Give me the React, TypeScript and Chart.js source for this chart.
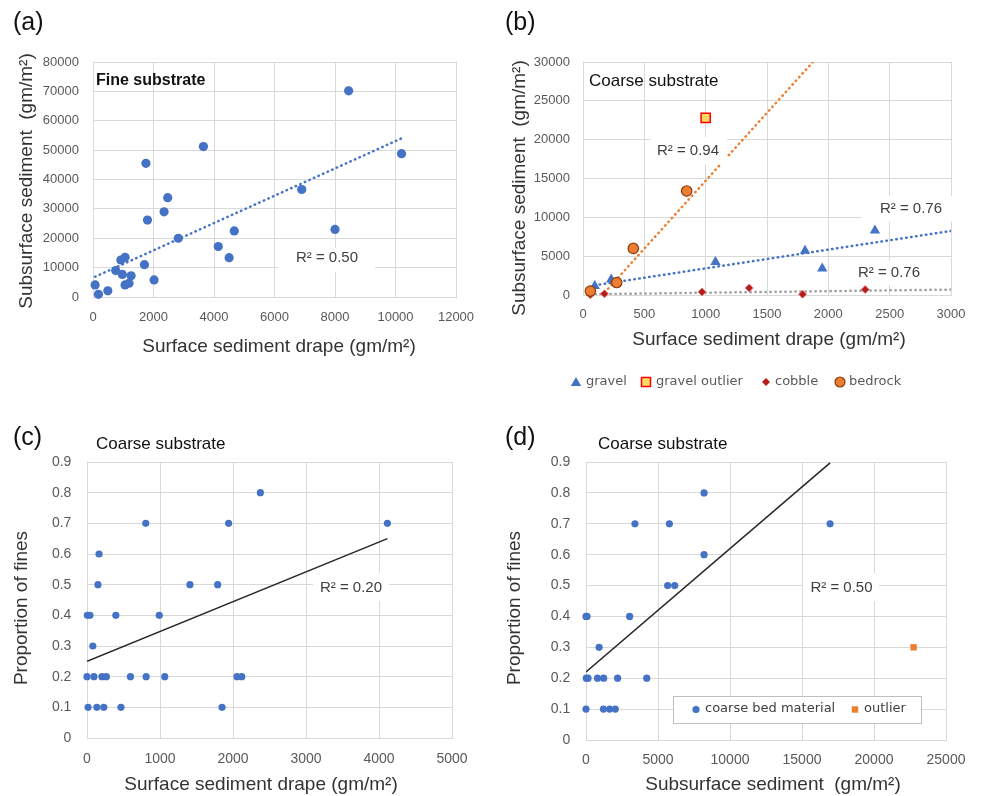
import React, { useEffect, useRef } from 'react';
import { Chart, registerables } from 'chart.js';

Chart.register(...registerables);

const FONT = '"Liberation Sans", Arial, Helvetica, sans-serif';
const LEGEND_FONT = '"DejaVu Sans", Verdana, sans-serif';

// ---------- (a) Fine substrate ----------
const fineDrapeX = [70, 180, 490, 750, 970, 1260, 1060, 1190, 920, 1060, 1700, 2020, 1750, 1800, 2350, 2470, 2820, 3650, 4140, 4500, 4670, 6900, 8000, 8450, 10200];
const fineSubsurfaceY = [4100, 900, 2100, 9000, 7700, 7200, 4100, 4700, 12600, 13500, 11000, 5800, 45500, 26200, 29000, 33800, 20000, 51200, 17200, 13400, 22500, 36600, 23000, 70200, 48800];
const fineTrendX = [70, 10200];
const fineTrendY = [6900, 54000];

// ---------- (b) Coarse substrate ----------
const gravelX = [96, 230, 1080, 1810, 1950, 2380];
const gravelY = [1150, 2000, 4250, 5700, 3400, 8300];
const gravelOutlierX = [1000];
const gravelOutlierY = [22800];
const cobbleX = [60, 175, 970, 1355, 1790, 2300];
const cobbleY = [30, 150, 400, 900, 100, 700];
const bedrockX = [60, 275, 410, 845];
const bedrockY = [500, 1600, 6000, 13400];
const gravelTrendX = [96, 3000];
const gravelTrendY = [1250, 8250];
const cobbleTrendX = [60, 3000];
const cobbleTrendY = [100, 700];
const bedrockTrendX = [150, 1880];
const bedrockTrendY = [-150, 30100];

// ---------- (c) Proportion of fines vs surface drape ----------
const drapeC = [2375, 805, 1940, 4115, 165, 150, 1410, 1790, 5, 40, 395, 990, 80, 0, 95, 205, 265, 595, 810, 1065, 2055, 2120, 15, 135, 230, 465, 1850];
const finesC = [0.8, 0.7, 0.7, 0.7, 0.6, 0.5, 0.5, 0.5, 0.4, 0.4, 0.4, 0.4, 0.3, 0.2, 0.2, 0.2, 0.2, 0.2, 0.2, 0.2, 0.2, 0.2, 0.1, 0.1, 0.1, 0.1, 0.1];
const trendCX = [0, 4115];
const trendCY = [0.25, 0.65];

// ---------- (d) Proportion of fines vs subsurface ----------
const subsurfaceD = [8200, 3400, 5790, 16950, 8200, 5670, 6160, 0, 70, 3030, 910, 20, 140, 800, 1225, 2195, 4220, 0, 1210, 1640, 2035];
const finesD = [0.8, 0.7, 0.7, 0.7, 0.6, 0.5, 0.5, 0.4, 0.4, 0.4, 0.3, 0.2, 0.2, 0.2, 0.2, 0.2, 0.2, 0.1, 0.1, 0.1, 0.1];
const outlierDX = [22750];
const outlierDY = [0.3];
const trendDX = [0, 16950];
const trendDY = [0.22, 0.897];

const BLUE = '#4472C4';
const ORANGE = '#ED7D31';
const GRID = '#d9d9d9';
const TICK = '#595959';
const TITLE = '#333333';

const pts = (xs: number[], ys: number[]) => xs.map((x, i) => ({ x, y: ys[i] }));

type AxisSpec = { min: number; max: number; step: number; tickSize: number; gap: number; fmt?: (v: number) => string };

function makeOptions(o: {
  width: number; height: number;
  area: { left: number; top: number; right: number; bottom: number };
  x: AxisSpec; y: AxisSpec;
}) {
  const fmtDefault = (v: number) => String(Math.round(v * 1000) / 1000);
  const xLineH = o.x.tickSize * 1.2;
  return {
    responsive: false,
    animation: false,
    devicePixelRatio: 1,
    events: [],
    layout: { padding: { left: 0, top: o.area.top, right: o.width - o.area.right, bottom: 0 } },
    plugins: { legend: { display: false }, tooltip: { enabled: false } },
    scales: {
      x: {
        type: 'linear', position: 'bottom', min: o.x.min, max: o.x.max,
        ticks: {
          stepSize: o.x.step, autoSkip: false, maxRotation: 0, minRotation: 0,
          color: TICK, font: { family: FONT, size: o.x.tickSize },
          padding: o.x.gap - xLineH / 2,
          callback: (v: number) => (o.x.fmt || fmtDefault)(v),
        },
        grid: { color: GRID, lineWidth: 1, drawTicks: false },
        border: { display: true, color: GRID },
        title: { display: false },
        afterFit: (s: any) => { s.height = o.height - o.area.bottom; },
      },
      y: {
        type: 'linear', position: 'left', min: o.y.min, max: o.y.max,
        ticks: {
          stepSize: o.y.step, autoSkip: false,
          color: TICK, font: { family: FONT, size: o.y.tickSize },
          padding: o.y.gap,
          callback: (v: number) => (o.y.fmt || fmtDefault)(v),
        },
        grid: { color: GRID, lineWidth: 1, drawTicks: false },
        border: { display: true, color: GRID },
        title: { display: false },
        afterFit: (s: any) => { s.width = o.area.left; },
      },
    },
  };
}

function text(ctx: CanvasRenderingContext2D, s: string, x: number, y: number, font: string, color: string, align: CanvasTextAlign = 'left') {
  ctx.font = font;
  ctx.fillStyle = color;
  ctx.textAlign = align;
  ctx.textBaseline = 'middle';
  ctx.fillText(s, x, y);
}

function axisTitles(ctx: CanvasRenderingContext2D, xTitle: string, xc: number, yc: number, yTitle: string, ycx: number, ycy: number) {
  const f = `19px ${FONT}`;
  text(ctx, xTitle, xc, yc, f, TITLE, 'center');
  ctx.save();
  ctx.translate(ycx, ycy);
  ctx.rotate(-Math.PI / 2);
  text(ctx, yTitle, 0, 0, f, TITLE, 'center');
  ctx.restore();
}

function rSquared(ctx: CanvasRenderingContext2D, s: string, cx: number, cy: number, box: [number, number, number, number]) {
  ctx.fillStyle = '#ffffff';
  ctx.fillRect(box[0], box[1], box[2] - box[0], box[3] - box[1]);
  text(ctx, s, cx, cy, `15px ${FONT}`, '#404040', 'center');
}

function triangle(ctx: CanvasRenderingContext2D, x: number, y: number, r: number, fill: string) {
  ctx.beginPath();
  for (let k = 0; k < 3; k++) {
    const a = (k * 2 * Math.PI) / 3;
    const px = x + Math.sin(a) * r;
    const py = y - Math.cos(a) * r;
    if (k === 0) ctx.moveTo(px, py); else ctx.lineTo(px, py);
  }
  ctx.closePath();
  ctx.fillStyle = fill;
  ctx.fill();
}

function square(ctx: CanvasRenderingContext2D, x: number, y: number, half: number, fill: string, stroke?: string, lw = 1) {
  ctx.fillStyle = fill;
  ctx.fillRect(x - half, y - half, half * 2, half * 2);
  if (stroke) {
    ctx.strokeStyle = stroke;
    ctx.lineWidth = lw;
    ctx.strokeRect(x - half, y - half, half * 2, half * 2);
  }
}

function diamond(ctx: CanvasRenderingContext2D, x: number, y: number, r: number, fill: string) {
  ctx.beginPath();
  ctx.moveTo(x, y - r);
  ctx.lineTo(x + r, y);
  ctx.lineTo(x, y + r);
  ctx.lineTo(x - r, y);
  ctx.closePath();
  ctx.fillStyle = fill;
  ctx.fill();
}

function circle(ctx: CanvasRenderingContext2D, x: number, y: number, r: number, fill: string, stroke?: string, lw = 1) {
  ctx.beginPath();
  ctx.arc(x, y, r, 0, Math.PI * 2);
  ctx.fillStyle = fill;
  ctx.fill();
  if (stroke) {
    ctx.strokeStyle = stroke;
    ctx.lineWidth = lw;
    ctx.stroke();
  }
}

function overlay(draw: (ctx: CanvasRenderingContext2D) => void) {
  return {
    id: 'overlay',
    afterDraw(chart: any) {
      const ctx = chart.ctx as CanvasRenderingContext2D;
      ctx.save();
      draw(ctx);
      ctx.restore();
    },
  };
}

const dotted = (color: string) => ({
  showLine: true, pointRadius: 0, borderColor: color, borderWidth: 2.5,
  borderDash: [0.5, 4.5], borderCapStyle: 'round', fill: false,
});

function configA() {
  return {
    type: 'scatter',
    data: {
      datasets: [
        { label: 'fine', data: pts(fineDrapeX, fineSubsurfaceY), pointRadius: 4.6, pointBackgroundColor: BLUE, pointBorderWidth: 0, clip: false },
        { label: 'trend', data: pts(fineTrendX, fineTrendY), ...dotted(BLUE) },
      ],
    },
    options: makeOptions({
      width: 490, height: 400,
      area: { left: 93, top: 62, right: 456, bottom: 297 },
      x: { min: 0, max: 12000, step: 2000, tickSize: 13, gap: 20 },
      y: { min: 0, max: 80000, step: 10000, tickSize: 13, gap: 14 },
    }),
    plugins: [overlay((ctx) => {
      text(ctx, '(a)', 13, 23, `25px ${FONT}`, '#111');
      text(ctx, 'Fine substrate', 96, 81, `bold 16px ${FONT}`, '#111');
      rSquared(ctx, 'R² = 0.50', 327, 258, [278, 248, 375, 272]);
      axisTitles(ctx, 'Surface sediment drape (gm/m²)', 279, 347, 'Subsurface sediment  (gm/m²)', 27, 181);
    })],
  };
}

function configB() {
  return {
    type: 'scatter',
    data: {
      datasets: [
        { label: 'gravel outlier', data: pts(gravelOutlierX, gravelOutlierY), pointStyle: 'rect', pointRadius: 6.5, pointBackgroundColor: '#FFD966', pointBorderColor: '#FF0000', pointBorderWidth: 1.5, clip: false },
        { label: 'bedrock', data: pts(bedrockX, bedrockY), pointRadius: 5.2, pointBackgroundColor: ORANGE, pointBorderColor: '#8C3A0A', pointBorderWidth: 1.2, clip: false },
        { label: 'gravel', data: pts(gravelX, gravelY), pointStyle: 'triangle', pointRadius: 6, pointBackgroundColor: BLUE, pointBorderWidth: 0, clip: false },
        { label: 'cobble', data: pts(cobbleX, cobbleY), pointStyle: 'rectRot', pointRadius: 4, pointBackgroundColor: '#B71C1C', pointBorderColor: '#E57373', pointBorderWidth: 0.8, clip: false },
        { label: 'bedrock trend', data: pts(bedrockTrendX, bedrockTrendY), ...dotted(ORANGE) },
        { label: 'gravel trend', data: pts(gravelTrendX, gravelTrendY), ...dotted(BLUE) },
        { label: 'cobble trend', data: pts(cobbleTrendX, cobbleTrendY), ...dotted('#A5A5A5') },
      ],
    },
    options: makeOptions({
      width: 491, height: 400,
      area: { left: 93, top: 62, right: 461, bottom: 295 },
      x: { min: 0, max: 3000, step: 500, tickSize: 13, gap: 19.7 },
      y: { min: 0, max: 30000, step: 5000, tickSize: 13, gap: 13 },
    }),
    plugins: [overlay((ctx) => {
      text(ctx, '(b)', 15, 23, `25px ${FONT}`, '#111');
      text(ctx, 'Coarse substrate', 99, 81, `17px ${FONT}`, '#111');
      rSquared(ctx, 'R² = 0.94', 198, 151, [160, 137, 237, 164]);
      rSquared(ctx, 'R² = 0.76', 421, 209, [372, 196, 470, 222]);
      rSquared(ctx, 'R² = 0.76', 399, 273, [360, 261, 440, 285]);
      axisTitles(ctx, 'Surface sediment drape (gm/m²)', 279, 340, 'Subsurface sediment  (gm/m²)', 30, 188);
      // legend
      const lf = `13px ${LEGEND_FONT}`;
      const ly = 382;
      triangle(ctx, 86, ly + 1, 6, BLUE);
      text(ctx, 'gravel', 96, ly, lf, TICK);
      square(ctx, 156, ly, 4.5, '#FFD966', '#FF0000', 1.5);
      text(ctx, 'gravel outlier', 166, ly, lf, TICK);
      diamond(ctx, 276, ly, 4, '#B71C1C');
      text(ctx, 'cobble', 285, ly, lf, TICK);
      circle(ctx, 350, ly, 5, ORANGE, '#8C3A0A', 1.2);
      text(ctx, 'bedrock', 359, ly, lf, TICK);
    })],
  };
}

const fmt1 = (v: number) => String(Math.round(v * 10) / 10);

function configC() {
  return {
    type: 'scatter',
    data: {
      datasets: [
        { label: 'coarse', data: pts(drapeC, finesC), pointRadius: 3.6, pointBackgroundColor: BLUE, pointBorderWidth: 0, clip: false },
        { label: 'trend', data: pts(trendCX, trendCY), showLine: true, pointRadius: 0, borderColor: '#262626', borderWidth: 1.5 },
      ],
    },
    options: makeOptions({
      width: 490, height: 396,
      area: { left: 87, top: 62, right: 452, bottom: 338 },
      x: { min: 0, max: 5000, step: 1000, tickSize: 14, gap: 21 },
      y: { min: 0, max: 0.9, step: 0.1, tickSize: 14, gap: 15.6, fmt: fmt1 },
    }),
    plugins: [overlay((ctx) => {
      text(ctx, '(c)', 13, 38, `25px ${FONT}`, '#111');
      text(ctx, 'Coarse substrate', 96, 44, `17px ${FONT}`, '#111');
      rSquared(ctx, 'R² = 0.20', 351, 188, [313, 173, 389, 201]);
      axisTitles(ctx, 'Surface sediment drape (gm/m²)', 261, 385, 'Proportion of fines', 22, 208);
    })],
  };
}

function configD() {
  return {
    type: 'scatter',
    data: {
      datasets: [
        { label: 'coarse bed material', data: pts(subsurfaceD, finesD), pointRadius: 3.6, pointBackgroundColor: BLUE, pointBorderWidth: 0, clip: false },
        { label: 'outlier', data: pts(outlierDX, outlierDY), pointStyle: 'rect', pointRadius: 4.5, pointBackgroundColor: ORANGE, pointBorderWidth: 0, clip: false },
        { label: 'trend', data: pts(trendDX, trendDY), showLine: true, pointRadius: 0, borderColor: '#262626', borderWidth: 1.5 },
      ],
    },
    options: makeOptions({
      width: 491, height: 396,
      area: { left: 96, top: 62, right: 456, bottom: 340 },
      x: { min: 0, max: 25000, step: 5000, tickSize: 14, gap: 20 },
      y: { min: 0, max: 0.9, step: 0.1, tickSize: 14, gap: 15.7, fmt: fmt1 },
    }),
    plugins: [overlay((ctx) => {
      text(ctx, '(d)', 15, 38, `25px ${FONT}`, '#111');
      text(ctx, 'Coarse substrate', 108, 44, `17px ${FONT}`, '#111');
      rSquared(ctx, 'R² = 0.50', 351.5, 188, [313, 173, 389, 201]);
      axisTitles(ctx, 'Subsurface sediment  (gm/m²)', 283, 385, 'Proportion of fines', 25, 208);
      // legend box
      ctx.fillStyle = '#ffffff';
      ctx.fillRect(183, 296, 248, 27);
      ctx.strokeStyle = '#bfbfbf';
      ctx.lineWidth = 1;
      ctx.strokeRect(183.5, 296.5, 248, 27);
      const lf = `13px ${LEGEND_FONT}`;
      circle(ctx, 206, 309.5, 3.6, BLUE);
      text(ctx, 'coarse bed material', 215, 309, lf, '#404040');
      square(ctx, 365, 309.5, 3.2, ORANGE);
      text(ctx, 'outlier', 374, 309, lf, '#404040');
    })],
  };
}

function ChartPanel({ left, top, width, height, make }: { left: number; top: number; width: number; height: number; make: () => any }) {
  const ref = useRef<HTMLCanvasElement>(null);
  useEffect(() => {
    const canvas = ref.current;
    if (!canvas) return;
    const chart = new Chart(canvas, make());
    return () => chart.destroy();
  }, []);
  return (
    <canvas
      ref={ref}
      width={width}
      height={height}
      style={{ position: 'absolute', left, top, width, height, display: 'block' }}
    />
  );
}

export default function App() {
  return (
    <div style={{ position: 'absolute', left: 0, top: 0, width: 981, height: 796, background: '#ffffff', overflow: 'hidden' }}>
      <ChartPanel left={0} top={0} width={490} height={400} make={configA} />
      <ChartPanel left={490} top={0} width={491} height={400} make={configB} />
      <ChartPanel left={0} top={400} width={490} height={396} make={configC} />
      <ChartPanel left={490} top={400} width={491} height={396} make={configD} />
    </div>
  );
}
